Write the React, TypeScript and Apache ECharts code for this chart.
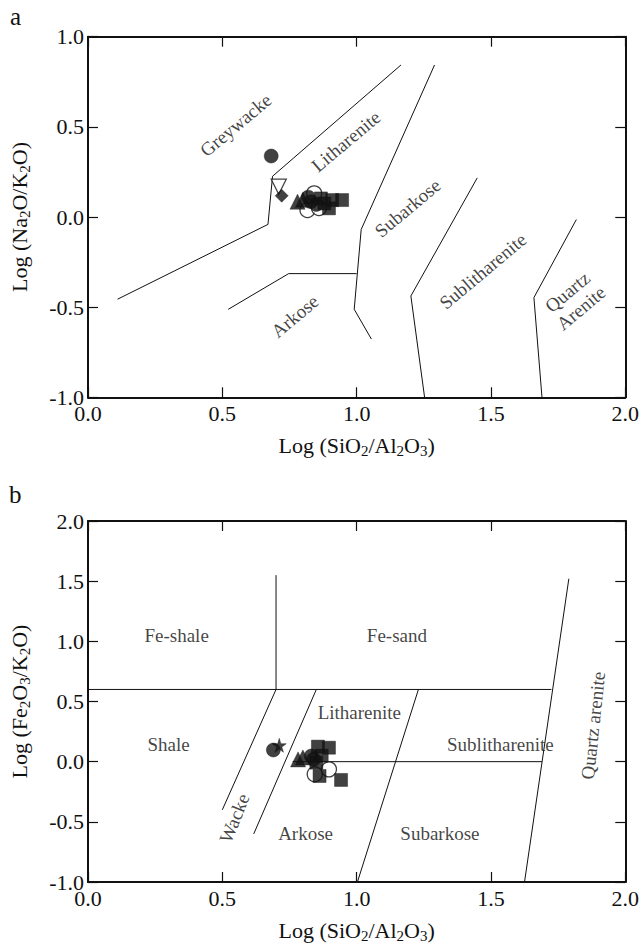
import React, { useEffect, useRef } from "react";
import * as echarts from "echarts";

// ---------- Panel a : Log(Na2O/K2O) vs Log(SiO2/Al2O3) ----------
const aXTicks = [0, 0.5, 1.0, 1.5, 2.0];
const aYTicks = [-1.0, -0.5, 0.0, 0.5, 1.0];
const aLineGreywacke = [[0.11, -0.456], [0.67, -0.041], [0.687, 0.226], [1.165, 0.843]];
const aLineLitharenite = [[1.29, 0.843], [1.017, -0.069], [0.991, -0.512], [1.055, -0.677]];
const aLineArkose = [[0.522, -0.512], [0.747, -0.314], [1.0, -0.314]];
const aLineSublith = [[1.449, 0.217], [1.202, -0.438], [1.253, -1.0]];
const aLineQuartz = [[1.818, -0.014], [1.66, -0.447], [1.69, -1.0]];
const aLabels = [
  { name: "Greywacke", x: 0.55, y: 0.51 },
  { name: "Litharenite", x: 0.96, y: 0.42 },
  { name: "Subarkose", x: 1.19, y: 0.05 },
  { name: "Sublitharenite", x: 1.47, y: -0.3 },
  { name: "Quartz\nArenite", x: 1.81, y: -0.46 },
  { name: "Arkose", x: 0.77, y: -0.55 },
];
const aOpenCircle = [[0.842, 0.131], [0.817, 0.039], [0.86, 0.05]];
const aFilledCircle = [[0.682, 0.338], [0.83, 0.085], [0.85, 0.07], [0.82, 0.11]];
const aTriangle = [[0.78, 0.085], [0.8, 0.095]];
const aInvTriangle = [[0.71, 0.168]];
const aDiamond = [[0.721, 0.118]];
const aSquare = [[0.867, 0.103], [0.909, 0.094], [0.946, 0.094], [0.897, 0.048], [0.88, 0.075]];

// ---------- Panel b : Log(Fe2O3/K2O) vs Log(SiO2/Al2O3) ----------
const bXTicks = [0, 0.5, 1.0, 1.5, 2.0];
const bYTicks = [-1.0, -0.5, 0.0, 0.5, 1.0, 1.5, 2.0];
const bLineFeVertical = [[0.7, 0.6], [0.7, 1.55]];
const bLineFeHorizontal = [[0.0, 0.6], [1.725, 0.6]];
const bLineShaleWacke = [[0.5, -0.4], [0.7, 0.6]];
const bLineWackeArkose = [[0.617, -0.6], [0.85, 0.6]];
const bLineSubarkose = [[1.003, -1.0], [1.23, 0.6]];
const bLineQuartz = [[1.625, -1.0], [1.79, 1.52]];
const bLineZero = [[0.762, 0.0], [1.69, 0.0]];
const bLabels = [
  { name: "Fe-shale", x: 0.33, y: 1.05, rot: 0 },
  { name: "Fe-sand", x: 1.15, y: 1.05, rot: 0 },
  { name: "Shale", x: 0.3, y: 0.14, rot: 0 },
  { name: "Litharenite", x: 1.01, y: 0.41, rot: 0 },
  { name: "Sublitharenite", x: 1.535, y: 0.14, rot: 0 },
  { name: "Wacke", x: 0.545, y: -0.47, rot: 68 },
  { name: "Arkose", x: 0.81, y: -0.6, rot: 0 },
  { name: "Subarkose", x: 1.31, y: -0.6, rot: 0 },
  { name: "Quartz arenite", x: 1.88, y: 0.3, rot: 84 },
];
const bOpenCircle = [[0.844, -0.105], [0.897, -0.064]];
const bFilledCircle = [[0.69, 0.097], [0.831, 0.047], [0.84, 0.02]];
const bStar = [[0.712, 0.136]];
const bTriangle = [[0.782, 0.019], [0.8, 0.035]];
const bSquare = [[0.856, 0.125], [0.897, 0.116], [0.85, -0.008], [0.862, -0.119], [0.942, -0.152], [0.87, 0.05]];

const FONT = "'Liberation Serif', 'Times New Roman', serif";
const STAR = "path://M50,0 L61,35 L98,35 L68,57 L79,91 L50,70 L21,91 L32,57 L2,35 L39,35 Z";

const richName = {
  n: { fontFamily: FONT, fontSize: 22, lineHeight: 26, color: "#111" },
  s: { fontFamily: FONT, fontSize: 15, lineHeight: 14, color: "#111", verticalAlign: "bottom" },
};

function fmt(v: number) {
  return v.toFixed(1);
}

const LINE = { show: true, onZero: false, lineStyle: { color: "#111", width: 2 } };
const TICK = { show: true, inside: true, length: 10, lineStyle: { color: "#111", width: 1.2 } };

function mainX(gridIndex: number, ticks: number[]) {
  return {
    type: "value",
    gridIndex,
    min: ticks[0],
    max: ticks[ticks.length - 1],
    interval: ticks[1] - ticks[0],
    position: "bottom",
    axisLine: LINE,
    axisTick: TICK,
    axisLabel: { show: true, margin: 5, formatter: fmt, fontFamily: FONT, fontSize: 22, color: "#111" },
    splitLine: { show: false },
    name: "{n|Log (SiO}{s|2}{n|/Al}{s|2}{n|O}{s|3}{n|)}",
    nameLocation: "middle",
    nameGap: 35,
    nameTextStyle: { rich: richName },
  };
}
function secX(gridIndex: number, ticks: number[]) {
  return {
    type: "value",
    gridIndex,
    min: ticks[0],
    max: ticks[ticks.length - 1],
    interval: ticks[1] - ticks[0],
    position: "top",
    axisLine: LINE,
    axisTick: TICK,
    axisLabel: { show: false },
    splitLine: { show: false },
  };
}
function mainY(gridIndex: number, ticks: number[], name: string) {
  return {
    type: "value",
    gridIndex,
    min: ticks[0],
    max: ticks[ticks.length - 1],
    interval: 0.5,
    position: "left",
    axisLine: LINE,
    axisTick: TICK,
    axisLabel: { show: true, margin: 4, formatter: fmt, fontFamily: FONT, fontSize: 22, color: "#111" },
    splitLine: { show: false },
    name,
    nameLocation: "middle",
    nameGap: 56,
    nameTextStyle: { rich: richName },
  };
}
function secY(gridIndex: number, ticks: number[]) {
  return {
    type: "value",
    gridIndex,
    min: ticks[0],
    max: ticks[ticks.length - 1],
    interval: 0.5,
    position: "right",
    axisLine: LINE,
    axisTick: TICK,
    axisLabel: { show: false },
    splitLine: { show: false },
  };
}

function lineSeries(data: number[][], idx: number) {
  return {
    type: "line",
    xAxisIndex: idx * 2,
    yAxisIndex: idx * 2,
    data,
    showSymbol: false,
    symbol: "none",
    silent: true,
    lineStyle: { color: "#111", width: 1 },
    z: 2,
  };
}

function labelSeries(labels: { name: string; x: number; y: number; rot?: number }[], idx: number, rotDefault: number) {
  return {
    type: "scatter",
    xAxisIndex: idx * 2,
    yAxisIndex: idx * 2,
    symbolSize: 0,
    silent: true,
    data: labels.map((l) => ({
      value: [l.x, l.y],
      name: l.name,
      label: { rotate: l.rot !== undefined ? l.rot : rotDefault },
    })),
    label: {
      show: true,
      position: "inside",
      formatter: "{b}",
      fontFamily: FONT,
      fontSize: 19,
      lineHeight: 21,
      color: "#111",
      align: "center",
      verticalAlign: "middle",
    },
    z: 3,
  };
}

function markerSeries(data: number[][], idx: number, symbol: string, size: number, filled: boolean, rotate = 0, z = 5) {
  return {
    type: "scatter",
    xAxisIndex: idx * 2,
    yAxisIndex: idx * 2,
    data,
    symbol,
    symbolSize: size,
    symbolRotate: rotate,
    silent: true,
    itemStyle: filled
      ? { color: "#111", borderColor: "#111", borderWidth: 0.5 }
      : { color: "#fff", borderColor: "#111", borderWidth: 1.3 },
    z,
  };
}

export default function App() {
  const ref = useRef<HTMLDivElement>(null);
  useEffect(() => {
    if (!ref.current) return;
    const chart = echarts.init(ref.current, undefined, { renderer: "svg" });
    const option = {
      animation: false,
      backgroundColor: "#fff",
      grid: [
        { left: 86.5, top: 36.7, width: 542.8, height: 360.6 },
        { left: 86.5, top: 521, width: 542.8, height: 361 },
      ],
      xAxis: [mainX(0, aXTicks), secX(0, aXTicks), mainX(1, bXTicks), secX(1, bXTicks)],
      yAxis: [
        mainY(0, aYTicks, "{n|Log (Na}{s|2}{n|O/K}{s|2}{n|O)}"),
        secY(0, aYTicks),
        mainY(1, bYTicks, "{n|Log (Fe}{s|2}{n|O}{s|3}{n|/K}{s|2}{n|O)}"),
        secY(1, bYTicks),
      ],
      graphic: [
        { type: "text", left: 10, top: 4, style: { text: "a", fontFamily: FONT, fontSize: 25, fill: "#111" } },
        { type: "text", left: 9, top: 482, style: { text: "b", fontFamily: FONT, fontSize: 25, fill: "#111" } },
      ],
      series: [
        lineSeries(aLineGreywacke, 0),
        lineSeries(aLineLitharenite, 0),
        lineSeries(aLineArkose, 0),
        lineSeries(aLineSublith, 0),
        lineSeries(aLineQuartz, 0),
        labelSeries(aLabels, 0, 40),
        markerSeries(aOpenCircle, 0, "circle", 15, false, 0, 4),
        markerSeries(aFilledCircle, 0, "circle", 14, true),
        markerSeries(aTriangle, 0, "triangle", 15, true),
        markerSeries(aInvTriangle, 0, "triangle", 15, false, 180),
        markerSeries(aDiamond, 0, "diamond", 13, true),
        markerSeries(aSquare, 0, "rect", 13, true),

        lineSeries(bLineFeVertical, 1),
        lineSeries(bLineFeHorizontal, 1),
        lineSeries(bLineShaleWacke, 1),
        lineSeries(bLineWackeArkose, 1),
        lineSeries(bLineSubarkose, 1),
        lineSeries(bLineQuartz, 1),
        lineSeries(bLineZero, 1),
        labelSeries(bLabels, 1, 0),
        markerSeries(bOpenCircle, 1, "circle", 15, false, 0, 4),
        markerSeries(bFilledCircle, 1, "circle", 14, true),
        markerSeries(bStar, 1, STAR, 14, true),
        markerSeries(bTriangle, 1, "triangle", 15, true),
        markerSeries(bSquare, 1, "rect", 13, true),
      ],
    };
    chart.setOption(option as any);
    return () => chart.dispose();
  }, []);
  return (
    <div
      ref={ref}
      style={{ position: "absolute", left: 0, top: 0, width: 642, height: 945, background: "#fff" }}
    />
  );
}
